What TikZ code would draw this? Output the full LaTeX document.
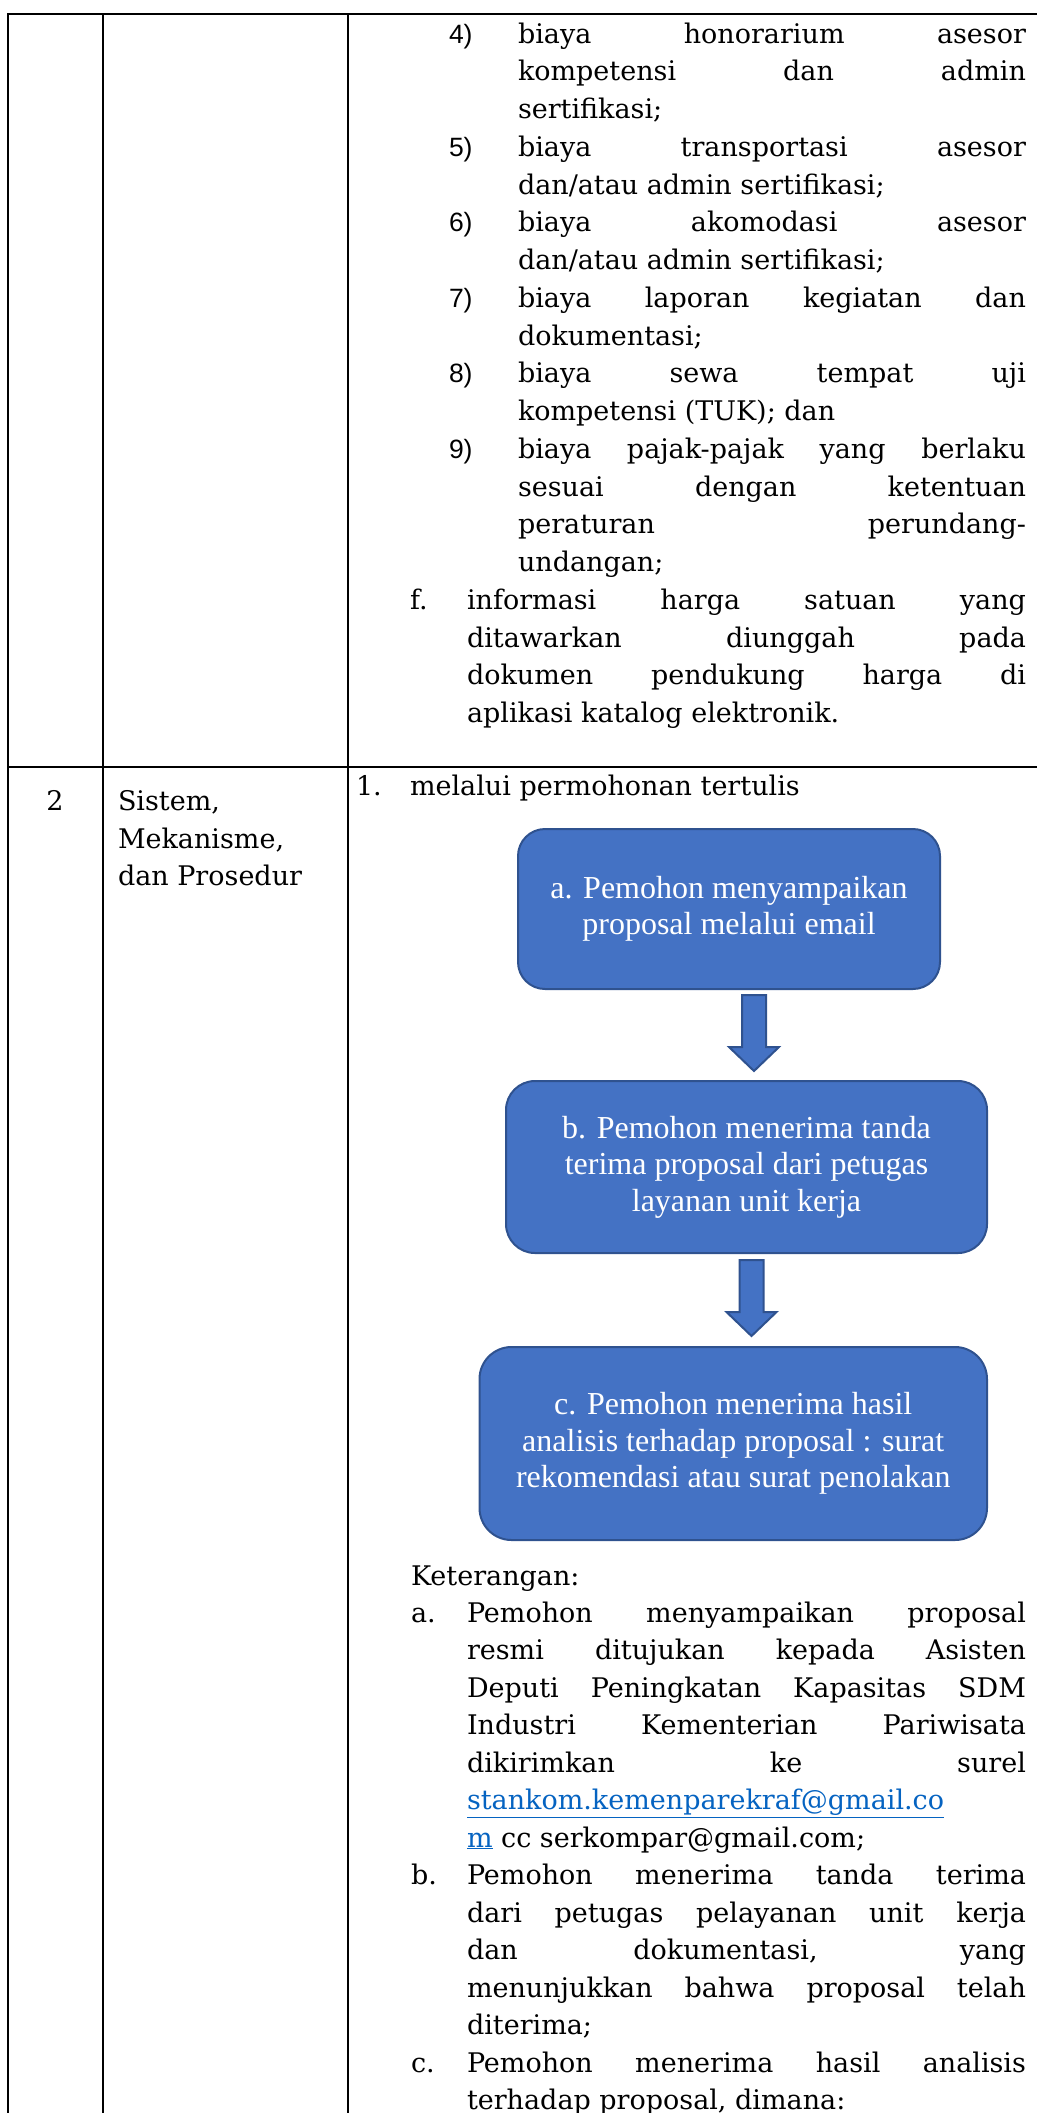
\documentclass[tikz,border=0pt]{standalone}
\usepackage{fontspec}
\setmainfont{DejaVu Serif}
\newfontfamily\boxfont{Liberation Serif}
\newfontfamily\numfont{Liberation Sans}
\usetikzlibrary{calc}
\definecolor{boxblue}{HTML}{4472C4}
\definecolor{boxedge}{HTML}{2F528F}
\definecolor{linkblue}{HTML}{0563C1}
\newcommand{\jline}[2]{\makebox[#1][s]{#2}}
\begin{document}
\begin{tikzpicture}[x=1pt,y=-1pt,
  every node/.style={inner sep=0pt, outer sep=0pt},
  txt/.style={anchor=base west, font=\fontsize{27pt}{37.75pt}\selectfont},
  lnum/.style={anchor=base west, font=\numfont\fontsize{26.5pt}{30pt}\selectfont},
  hrule/.style={line width=2.5pt},
  vrule/.style={line width=2pt},
  flowbox/.style={draw=boxedge, line width=2pt, fill=boxblue, text=white, align=center,
    font=\boxfont\fontsize{32pt}{36.5pt}\selectfont},
  blockarr/.style={draw=boxedge, line width=2pt, fill=boxblue, line join=miter}
]
\useasboundingbox (0,0) rectangle (1037,2113);
% table rules
\draw[hrule] (7,14) -- (1037,14);
\draw[hrule] (7,767) -- (1037,767);
\draw[vrule] (8,13) -- (8,2113);
\draw[vrule] (102.5,13) -- (102.5,2113);
\draw[vrule] (348,13) -- (348,2113);

% ---- row 1 ----
\node[lnum] (n4) at (449,43) {4)};
\node[txt] (l0) at (518,43) {\jline{508pt}{biaya honorarium asesor}};
\node[txt] (l1) at (518,80.75) {\jline{508pt}{kompetensi dan admin}};
\node[txt] (l2) at (518,118.5) {sertifikasi;};
\node[lnum] (n5) at (449,156.25) {5)};
\node[txt] (l3) at (518,156.25) {\jline{508pt}{biaya transportasi asesor}};
\node[txt] (l4) at (518,194) {dan/atau admin sertifikasi;};
\node[lnum] (n6) at (449,231.75) {6)};
\node[txt] (l5) at (518,231.75) {\jline{508pt}{biaya akomodasi asesor}};
\node[txt] (l6) at (518,269.5) {dan/atau admin sertifikasi;};
\node[lnum] (n7) at (449,307.25) {7)};
\node[txt] (l7) at (518,307.25) {\jline{508pt}{biaya laporan kegiatan dan}};
\node[txt] (l8) at (518,345) {dokumentasi;};
\node[lnum] (n8) at (449,382.75) {8)};
\node[txt] (l9) at (518,382.75) {\jline{508pt}{biaya sewa tempat uji}};
\node[txt] (l10) at (518,420.5) {kompetensi (TUK); dan};
\node[lnum] (n9) at (449,458.25) {9)};
\node[txt] (l11) at (518,458.25) {\jline{508pt}{biaya pajak-pajak yang berlaku}};
\node[txt] (l12) at (518,496) {\jline{508pt}{sesuai dengan ketentuan}};
\node[txt] (l13) at (518,533.75) {\jline{508pt}{peraturan perundang-}};
\node[txt] (l14) at (518,571.5) {undangan;};
\node[txt] (nf) at (410,609.25) {f.};
\node[txt] (l15) at (467,609.25) {\jline{559pt}{informasi harga satuan yang}};
\node[txt] (l16) at (467,647) {\jline{559pt}{ditawarkan diunggah pada}};
\node[txt] (l17) at (467,684.75) {\jline{559pt}{dokumen pendukung harga di}};
\node[txt] (l18) at (467,722.5) {aplikasi katalog elektronik.};

% ---- row 2 ----
\node[txt, anchor=base] (no2) at (55,810) {2};
\node[txt] (c1) at (118,810) {Sistem,};
\node[txt] (c2) at (118,848) {Mekanisme,};
\node[txt] (c3) at (118,885) {dan Prosedur};
\node[txt] (n1) at (356,795) {1.};
\node[txt] (h1) at (410,795) {melalui permohonan tertulis};

% flow boxes
\node[flowbox, rounded corners=27pt, minimum width=422pt, minimum height=160pt] (boxa) at (729,909)
  {a. Pemohon menyampaikan\\proposal melalui email};
\node[flowbox, rounded corners=29pt, minimum width=481pt, minimum height=172pt] (boxb) at (746.5,1167)
  {b. Pemohon menerima tanda\\terima proposal dari petugas\\layanan unit kerja};
\node[flowbox, rounded corners=32pt, minimum width=507.5pt, minimum height=193pt] (boxc) at (733.25,1443.5)
  {c. Pemohon menerima hasil\\analisis terhadap proposal : surat\\rekomendasi atau surat penolakan};

% block arrows
\coordinate (a1s) at ([xshift=25pt,yshift=-6pt]boxa.south);
\coordinate (a1e) at ([xshift=7.5pt,yshift=10pt]boxb.north);
\draw[blockarr] (a1s) ++(-12,0) -- ++(0,52) -- ++(-13,0) -- (a1e) -- ++(25,-24) -- ++(-13,0) -- ++(0,-52) -- cycle;
\coordinate (a2s) at ([xshift=5pt,yshift=-7pt]boxb.south);
\coordinate (a2e) at ([xshift=18.25pt,yshift=11pt]boxc.north);
\draw[blockarr] (a2s) ++(-12,0) -- ++(0,52) -- ++(-13,0) -- (a2e) -- ++(25,-24) -- ++(-13,0) -- ++(0,-52) -- cycle;

% keterangan
\node[txt] (ket) at (411,1585) {Keterangan:};
\node[txt] (ka) at (411,1622) {a.};
\node[txt] (k0) at (467,1622) {\jline{559pt}{Pemohon menyampaikan proposal}};
\node[txt] (k1) at (467,1659.5) {\jline{559pt}{resmi ditujukan kepada Asisten}};
\node[txt] (k2) at (467,1697) {\jline{559pt}{Deputi Peningkatan Kapasitas SDM}};
\node[txt] (k3) at (467,1734.5) {\jline{559pt}{Industri Kementerian Pariwisata}};
\node[txt] (k4) at (467,1772) {\jline{559pt}{dikirimkan ke surel}};
\node[txt] (k5) at (467,1809.5) {\textcolor{linkblue}{\underline{stankom.kemenparekraf@gmail.co}}};
\node[txt] (k6) at (467,1847) {\textcolor{linkblue}{\underline{m}} cc serkompar@gmail.com;};
\node[txt] (kb) at (411,1884.5) {b.};
\node[txt] (k7) at (467,1884.5) {\jline{559pt}{Pemohon menerima tanda terima}};
\node[txt] (k8) at (467,1922) {\jline{559pt}{dari petugas pelayanan unit kerja}};
\node[txt] (k9) at (467,1959.5) {\jline{559pt}{dan dokumentasi, yang}};
\node[txt] (k10) at (467,1997) {\jline{559pt}{menunjukkan bahwa proposal telah}};
\node[txt] (k11) at (467,2034.5) {diterima;};
\node[txt] (kc) at (411,2072) {c.};
\node[txt] (k12) at (467,2072) {\jline{559pt}{Pemohon menerima hasil analisis}};
\node[txt] (k13) at (467,2109.5) {terhadap proposal, dimana:};
\end{tikzpicture}
\end{document}
